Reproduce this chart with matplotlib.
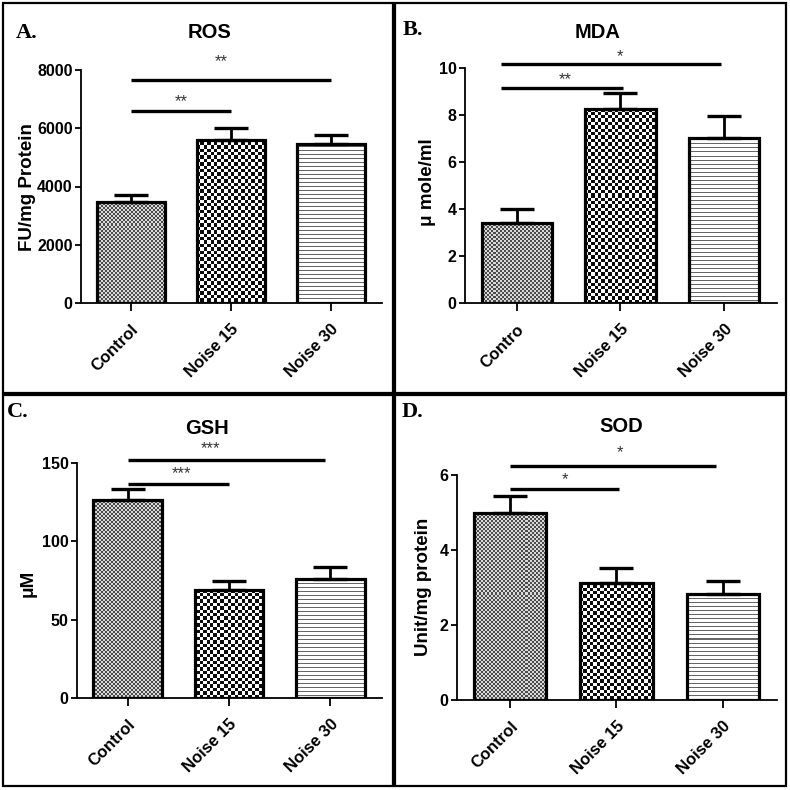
import numpy as np
import matplotlib
matplotlib.use("Agg")
import matplotlib.pyplot as plt
from matplotlib.patches import Rectangle

plt.rcParams['font.family'] = ['Liberation Sans', 'DejaVu Sans']

# ---------------- data ----------------
categories = ["Control", "Noise 15", "Noise 30"]
categories_mda = ["Contro", "Noise 15", "Noise 30"]

ros_mean = [3480, 5580, 5450]
ros_sem = [230, 420, 320]
ros_ticks = [0, 2000, 4000, 6000, 8000]

mda_mean = [3.39, 8.26, 7.04]
mda_sem = [0.61, 0.67, 0.90]
mda_ticks = [0, 2, 4, 6, 8, 10]

gsh_mean = [126.3, 68.9, 75.8]
gsh_sem = [7.1, 6.0, 7.6]
gsh_ticks = [0, 50, 100, 150]

sod_mean = [4.99, 3.11, 2.83]
sod_sem = [0.46, 0.40, 0.34]
sod_ticks = [0, 2, 4, 6]

# significance bars: start group, end group, height, label
ros_sig_from = [0, 0]
ros_sig_to = [1, 2]
ros_sig_y = [6600, 7660]
ros_sig_lab = ["**", "**"]
ros_sig_lab_x = [0.5, 0.9]
ros_sig_lab_y = [6912, 8275]

mda_sig_from = [-0.15, -0.15]
mda_sig_to = [1.02, 1.97]
mda_sig_y = [9.17, 10.17]
mda_sig_lab = ["**", "*"]
mda_sig_lab_x = [0.47, 1.0]
mda_sig_lab_y = [9.5, 10.5]

gsh_sig_from = [0, 0]
gsh_sig_to = [1.0, 1.95]
gsh_sig_y = [136.5, 151.7]
gsh_sig_lab = ["***", "***"]
gsh_sig_lab_x = [0.53, 0.82]
gsh_sig_lab_y = [143.2, 159.2]

sod_sig_from = [0, 0]
sod_sig_to = [1.02, 1.94]
sod_sig_y = [5.63, 6.25]
sod_sig_lab = ["*", "*"]
sod_sig_lab_x = [0.52, 1.03]
sod_sig_lab_y = [5.87, 6.59]

# ---------------- figure ----------------
W = H = 790
DPI = 100
fig = plt.figure(figsize=(W / DPI, H / DPI), dpi=DPI)


def fx(px):
    return px / W


def fy(py):
    return 1 - py / H


def pattern(kind, h, w):
    yy, xx = np.mgrid[0:h, 0:w]
    if kind == "fine":
        c = ((xx // 2 + yy // 2) % 2).astype(float)
        return 0.3 + 0.55 * c
    if kind == "coarse":
        c = (((xx * 10) // 34 + (yy * 10) // 34) % 2).astype(float)
        return 0.05 + 0.95 * c
    # horizontal lines
    c = np.ones((h, w))
    c[(yy % 4) == 0] = 0.4
    return c


kinds = ["fine", "coarse", "lines"]


def panel(left, right, y0, ytop, ylim, ticks, means, sems, cats,
          sfrom, sto, sy, slab, slx, sly, title, title_xy, ylabel, ylabel_xy,
          letter, letter_xy):
    left, right, y0, ytop = round(left), round(right), round(y0), round(ytop)
    ax = fig.add_axes([fx(left), fy(y0), fx(right - left), (y0 - ytop) / H])
    x = np.arange(len(means))
    wpx, hpx = right - left, y0 - ytop
    bars = ax.bar(x, means, width=0.68, facecolor="none", edgecolor="black",
                  linewidth=2.3, zorder=3)
    for b, k in zip(bars.patches, kinds):
        im = ax.imshow(pattern(k, hpx, wpx), extent=(0, 1, 0, 1),
                       transform=ax.transAxes, cmap="gray", vmin=0, vmax=1,
                       interpolation="nearest", aspect="auto", zorder=2)
        im.set_clip_path(b)
    ax.errorbar(x, means, yerr=[np.zeros(len(sems)), sems], fmt="none",
                ecolor="black", elinewidth=2.0, capsize=12.5, capthick=2.4,
                zorder=4)
    ax.set_xlim(-0.5, 2.51)
    ax.set_ylim(*ylim)
    ax.set_yticks(ticks)
    ax.set_yticklabels([str(t) for t in ticks], fontsize=11.5,
                       fontweight="bold")
    ax.set_xticks(x)
    ax.set_xticklabels(cats, rotation=45, ha="right", rotation_mode="anchor",
                       fontsize=12, fontweight="bold")
    ax.tick_params(axis="y", length=4, width=1.3, pad=2)
    ax.tick_params(axis="x", length=5.5, width=1.3, pad=8)
    for s in ["top", "right"]:
        ax.spines[s].set_visible(False)
    for s in ["left", "bottom"]:
        ax.spines[s].set_linewidth(1.3)
    ax.patch.set_alpha(0)
    for a, b_, yy, lab, lx, ly in zip(sfrom, sto, sy, slab, slx, sly):
        ax.plot([a, b_], [yy, yy], color="black", lw=2.4, clip_on=False,
                solid_capstyle="butt", zorder=5)
        ax.text(lx, ly, lab, ha="center", va="center", fontsize=12,
                color="#333333", clip_on=False)
    fig.text(fx(title_xy[0]), fy(title_xy[1]), title, ha="center",
             va="center", fontsize=14.5, fontweight="bold")
    fig.text(fx(ylabel_xy[0]), fy(ylabel_xy[1]), ylabel, ha="center",
             va="center", rotation=90, fontsize=13.5, fontweight="bold")
    fig.text(fx(letter_xy[0]), fy(letter_xy[1]), letter, ha="left",
             va="center", fontsize=16, fontweight="bold",
             family=["Liberation Serif", "DejaVu Serif"])
    return ax


panel(81, 382, 303, 70, (0, 8000), ros_ticks, ros_mean, ros_sem, categories,
      ros_sig_from, ros_sig_to, ros_sig_y, ros_sig_lab, ros_sig_lab_x,
      ros_sig_lab_y, "ROS", (210, 33), "FU/mg Protein", (27.5, 187),
      "A.", (16, 33))
panel(465, 777, 302.7, 68.3, (0, 10), mda_ticks, mda_mean, mda_sem,
      categories_mda, mda_sig_from, mda_sig_to, mda_sig_y, mda_sig_lab,
      mda_sig_lab_x, mda_sig_lab_y, "MDA", (598, 33), "μ mole/ml", (427, 182),
      "B.", (403, 30))
panel(76.7, 382, 697.7, 463.3, (0, 150), gsh_ticks, gsh_mean, gsh_sem,
      categories, gsh_sig_from, gsh_sig_to, gsh_sig_y, gsh_sig_lab,
      gsh_sig_lab_x, gsh_sig_lab_y, "GSH", (207, 428), "μM", (28, 583),
      "C.", (7, 412))
panel(456.7, 776.7, 700, 475, (0, 6), sod_ticks, sod_mean, sod_sem,
      categories, sod_sig_from, sod_sig_to, sod_sig_y, sod_sig_lab,
      sod_sig_lab_x, sod_sig_lab_y, "SOD", (621, 427), "Unit/mg protein",
      (423, 587), "D.", (402, 412))

# panel frames
for (x0, y0p, x1, y1p) in [(3, 3, 393, 393), (395, 3, 786, 393),
                           (3, 395, 393, 786), (395, 395, 786, 786)]:
    fig.patches.append(Rectangle((fx(x0), fy(y1p)), fx(x1 - x0),
                                 (y1p - y0p) / H, transform=fig.transFigure,
                                 fill=False, edgecolor="black", lw=1.6))

fig.savefig("out.png", dpi=DPI, facecolor="white")
